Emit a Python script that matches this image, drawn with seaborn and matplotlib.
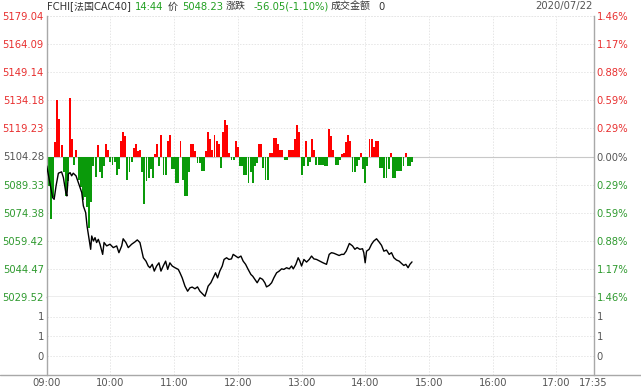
import numpy as np
import pandas as pd
import matplotlib
matplotlib.use("Agg")
import matplotlib.pyplot as plt
import seaborn as sns
from matplotlib.lines import Line2D

# ---------------- data ----------------
price_ticks = [5179.04, 5164.09, 5149.14, 5134.18, 5119.23, 5104.28,
               5089.33, 5074.38, 5059.42, 5044.47, 5029.52]
pct_labels = ['1.46%', '1.17%', '0.88%', '0.59%', '0.29%', '0.00%',
              '0.29%', '0.59%', '0.88%', '1.17%', '1.46%']
prev_close = 5104.28

time_ticks = [0, 60, 120, 180, 240, 300, 360, 420, 480, 515]   # minutes after 09:00
time_labels = ['09:00', '10:00', '11:00', '12:00', '13:00', '14:00',
               '15:00', '16:00', '17:00', '17:35']

vol_ticks = [1.5, 1.0, 0.5]
vol_labels = ['1', '1', '0']

price_minutes = [0, 3, 5.6, 7, 8.8, 11, 14, 15.7, 18, 19, 20.4, 22, 23.5, 25, 27.6,
                 29.8, 33, 34.5, 36.7, 38, 40, 41.4, 42.4, 44, 45.5, 47, 48.6, 50.2,
                 52.7, 54, 56.5, 59.6, 62.7, 65.9, 68, 70.6, 72, 74.6, 76.8, 80, 83,
                 85.3, 87.8, 91, 93.5, 95.6, 97.2, 99.4, 101.3, 103.5, 105.7, 107.6,
                 109.7, 112, 113.9, 116, 118.2, 120.8, 123.9, 125.5, 127.6, 130.2,
                 132.7, 134.9, 137, 139.6, 142, 144.3, 146.4, 149, 150.6, 152, 154.6,
                 156.8, 159, 160.9, 163, 165.3, 167, 169.4, 171.6, 174, 175.6, 177.9,
                 180.3, 182.9, 185, 187.3, 189.7, 192.3, 194, 196, 198.2, 200.8, 203.3,
                 205.4, 207, 209.5, 211.8, 213.9, 216.5, 218.9, 221.2, 223.3, 225.9,
                 228.4, 230.6, 232.2, 234.6, 236.8, 238.4, 240, 242.2, 244.7, 247.2,
                 249.4, 251.6, 254.1, 257.2, 260.3, 263.5, 266, 268.2, 270.4, 272.9,
                 275.4, 277.6, 279.8, 282, 285, 288, 290.2, 292.3, 294.9, 297.4, 298.6,
                 299.9, 301.2, 303.6, 305.9, 308, 310.6, 313, 315.3, 317.5, 320, 322.5,
                 324.7, 326.9, 329.4, 331.9, 334.1, 336.3, 338.2, 340.3, 342, 344]
price_values = [5099.3, 5090.4, 5082.4, 5081.5, 5088.6, 5095.4, 5096.1, 5093.1, 5085.1,
                5083.3, 5094.9, 5095.7, 5094.0, 5095.4, 5094.0, 5090.4, 5085.1, 5078.0,
                5074.4, 5067.3, 5060.2, 5054.9, 5062.0, 5059.3, 5061.1, 5058.5, 5060.2,
                5057.6, 5052.2, 5058.5, 5056.7, 5057.6, 5055.8, 5056.7, 5053.1, 5056.7,
                5060.5, 5058.5, 5055.8, 5057.6, 5058.8, 5059.9, 5058.5, 5050.4, 5048.6,
                5046.0, 5045.1, 5046.9, 5043.3, 5046.0, 5047.7, 5043.3, 5046.0, 5048.6,
                5044.2, 5047.7, 5046.0, 5045.1, 5044.2, 5042.4, 5039.7, 5035.3, 5032.6,
                5034.4, 5034.8, 5033.9, 5034.9, 5032.6, 5031.4, 5029.9, 5032.6, 5035.3,
                5037.1, 5039.7, 5042.4, 5039.7, 5043.3, 5046.0, 5049.5, 5050.4, 5049.5,
                5049.8, 5052.2, 5051.3, 5050.4, 5051.3, 5048.6, 5046.9, 5044.2, 5041.5,
                5040.6, 5038.9, 5037.1, 5039.7, 5038.9, 5037.1, 5034.9, 5035.7, 5037.1,
                5039.7, 5042.4, 5043.3, 5044.5, 5044.2, 5045.1, 5044.5, 5046.0, 5044.5,
                5046.9, 5050.4, 5048.6, 5046.0, 5049.5, 5048.1, 5049.5, 5051.3, 5049.8,
                5049.5, 5048.6, 5047.7, 5046.9, 5052.2, 5053.1, 5052.8, 5052.2, 5051.6,
                5052.2, 5052.2, 5053.9, 5058.0, 5056.7, 5054.9, 5055.8, 5054.9, 5055.2,
                5053.1, 5047.7, 5053.9, 5054.9, 5057.6, 5059.3, 5060.5, 5058.8, 5057.0,
                5053.9, 5054.5, 5052.2, 5053.1, 5050.4, 5049.2, 5048.6, 5047.4, 5046.3,
                5046.9, 5045.1, 5046.9, 5048.2]

# red/green bars, change relative to previous close line, one per 2 minutes
bar_values = [-8.5, -15.5, -33.0, -21.3, 7.5, 29.9, 19.7, 5.9, -8.5, -20.8, -13.3, 30.9,
              9.1, -4.3, 3.2, -12.3, -16.0, -22.9, -21.3, -26.7, -37.9, -24.0, -5.3,
              -10.7, 5.9, -8.0, -11.2, -5.3, 6.4, 3.7, -2.7, -4.3, -2.7, -9.6, -6.4, 8.5,
              12.8, 10.7, -12.3, -8.0, -2.7, 4.3, 6.4, 2.7, 3.2, -8.5, -25.1, -12.8,
              -11.2, -6.9, -11.2, 1.1, 6.4, -4.8, 11.2, -10.1, -10.1, 8.0, 11.2, -6.9,
              -6.9, -13.9, -13.9, 8.0, -12.3, -20.8, -20.8, -8.5, 6.4, 6.4, 2.7, -3.2,
              -3.2, -7.5, -7.5, 2.7, 12.8, 9.1, 3.7, 11.7, 8.0, 6.4, -5.9, 12.8, 19.2,
              16.5, 1.6, -2.1, -2.1, 8.0, 5.3, -4.8, -4.8, -10.1, -10.1, -13.9, -8.5,
              -13.9, -4.8, -3.2, 6.4, 6.4, -5.9, -12.3, -12.3, 1.6, 1.6, 10.1, 10.1, 6.4,
              3.2, 3.2, -2.1, -2.1, 3.2, 3.7, 3.7, 9.1, 16.5, 13.3, -10.1, -5.3, 8.5,
              -4.8, -2.7, 9.1, 3.2, -4.3, -4.3, -4.3, -4.3, -4.8, -4.8, 14.4, 10.7, 3.7,
              -4.3, -4.3, -2.1, 1.1, 2.1, 7.5, 11.2, 8.0, -8.5, -8.5, -4.8, -2.1, 1.6,
              -6.9, -13.9, -5.3, 9.1, 9.1, 5.3, 8.5, 8.5, -5.9, -5.9, -11.2, -11.2, -6.9,
              1.6, -11.2, -11.2, -7.5, -7.5, -7.5, -4.8, 1.6, -4.8, -4.8, -2.7]
bar_minutes = list(range(0, 2 * len(bar_values), 2))

header_parts = [("FCHI[法国CAC40]", '#333333', 47),
                ("14:44", '#22a022', 135),
                ("价", '#333333', 167.5),
                ("5048.23", '#22a022', 182),
                ("涨跌", '#333333', 226),
                ("-56.05(-1.10%)", '#22a022', 253.5),
                ("成交金额", '#333333', 331),
                ("0", '#333333', 378)]
date_text = "2020/07/22"

# ---------------- style ----------------
sns.set_theme(style='white')
plt.rcParams['font.family'] = ['DejaVu Sans', 'Noto Sans CJK SC']
RED = '#e83030'
GREEN = '#2f9a2f'
GRAY = '#555555'
GRID = '#e6e6e6'
SPINE = '#a8a8a8'
FS = 7.2
GRID_LS = (0, (1.5, 1.5))

W_PX, H_PX = 641, 391
fig = plt.figure(figsize=(W_PX / 100, H_PX / 100), dpi=100)
fig.patch.set_facecolor('white')

left_px, right_px = 46.7, 593.6
top_px, mid_px, bot_px = 16, 297, 375
L = left_px / W_PX
Wd = (right_px - left_px) / W_PX
ax = fig.add_axes([L, 1 - mid_px / H_PX, Wd, (mid_px - top_px) / H_PX])
axv = fig.add_axes([L, 1 - bot_px / H_PX, Wd, (bot_px - mid_px) / H_PX])

# bars
bar_colors = ['#ff0000' if v > 0 else '#0a9a0a' for v in bar_values]
ax.bar(bar_minutes, bar_values, bottom=prev_close, width=1.8, color=bar_colors,
       linewidth=0, zorder=2)
ax.axhline(prev_close, color='#c8c8c8', lw=0.8, zorder=1)

# price line
df = pd.DataFrame({'minute': price_minutes, 'price': price_values})
sns.lineplot(data=df, x='minute', y='price', ax=ax, color='black', linewidth=1.0,
             zorder=3, sort=False)

for a in (ax, axv):
    a.set_xlim(0, 515)
    a.set_facecolor('white')
    a.set_xticks(time_ticks)
    a.grid(True, axis='both', color=GRID, linestyle=GRID_LS, linewidth=0.7, zorder=0)
    a.set_axisbelow(True)
    a.tick_params(length=0, labelsize=FS, colors=GRAY, pad=2)
    for s in a.spines.values():
        s.set_color(SPINE)
        s.set_linewidth(1.0)
    a.set_xlabel('')
    a.set_ylabel('')

ax.set_ylim(price_ticks[-1], price_ticks[0])
ax.set_yticks(price_ticks)
ax.set_yticklabels([f"{v:.2f}" for v in price_ticks])
ax.set_xticklabels([])
ax.spines['top'].set_visible(False)
ax.axhline(price_ticks[0], color=GRID, lw=0.7, ls=GRID_LS, zorder=0)

axr = ax.twinx()
axr.set_ylim(price_ticks[-1], price_ticks[0])
axr.set_yticks(price_ticks)
axr.set_yticklabels(pct_labels)
axr.tick_params(length=0, labelsize=FS, pad=2)
axr.grid(False)
for s in axr.spines.values():
    s.set_visible(False)

n = len(price_ticks)
for i, (tl, tr) in enumerate(zip(ax.get_yticklabels(), axr.get_yticklabels())):
    c = RED if i < n // 2 else (GRAY if i == n // 2 else GREEN)
    tl.set_color(c)
    tr.set_color(c)

axv.set_ylim(0, 2)
axv.set_yticks(vol_ticks)
axv.set_yticklabels(vol_labels)
axv.set_xticklabels(time_labels)
axv.spines['top'].set_visible(False)
axvr = axv.twinx()
axvr.set_ylim(0, 2)
axvr.set_yticks(vol_ticks)
axvr.set_yticklabels(vol_labels)
axvr.tick_params(length=0, labelsize=FS, colors=GRAY, pad=2)
axvr.grid(False)
for s in axvr.spines.values():
    s.set_visible(False)
axv.spines['bottom'].set_visible(False)

# bottom line spanning the full width
fig.add_artist(Line2D([0, 1], [1 - bot_px / H_PX] * 2, color=SPINE, lw=1.0,
                      transform=fig.transFigure))

# header
hy = 1 - 6.5 / H_PX
for txt, col, xpx in header_parts:
    fig.text(xpx / W_PX, hy, txt, color=col, fontsize=FS, ha='left', va='center')
fig.text(right_px / W_PX - 0.002, hy, date_text, color=GRAY, fontsize=FS,
         ha='right', va='center')

fig.savefig('out.png', dpi=100, facecolor='white')
